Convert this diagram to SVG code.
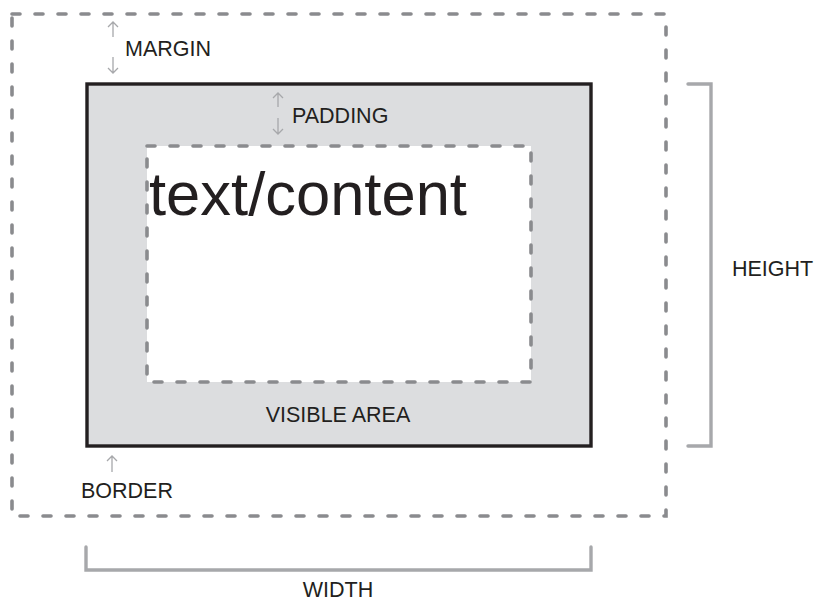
<svg xmlns="http://www.w3.org/2000/svg" width="820" height="603" viewBox="0 0 820 603">
<style>
.lbl{font-family:"Liberation Sans",Arial,sans-serif;font-size:21.5px;fill:#231f20}
.dash{stroke:#8a8b8e;stroke-width:3.6;stroke-dasharray:8 15;stroke-linecap:round}
.brk{fill:none;stroke:#a7a8ab;stroke-width:3.4;stroke-linecap:round;stroke-linejoin:miter}
.arr{fill:none;stroke:#a7a8ab;stroke-width:1.3}
</style>
<rect width="820" height="603" fill="#ffffff"/>
<g id="margin-box">
<rect x="12" y="14" width="654" height="502" fill="none" class="dash"/>
</g>
<g id="border-box">
<rect x="87" y="84" width="504" height="362" fill="#dcdddf" stroke="#231f20" stroke-width="3.4"/>
</g>
<g id="content-box">
<rect x="147" y="146" width="384" height="236" fill="#ffffff" class="dash"/>
<text x="149" y="215" font-family="'Liberation Sans',Arial,sans-serif" font-size="61.5" fill="#231f20">text/content</text>
</g>
<g id="connectors">
<path class="brk" d="M688 84 H711 V446 H688"/>
<path class="brk" d="M86 547 V570 H591 V547"/>
<path class="arr" d="M113 22 V37 M108 27 L113 22 L118 27"/>
<path class="arr" d="M113 57 V73 M108 68 L113 73 L118 68"/>
<path class="arr" d="M278 93 V107 M273 98 L278 93 L283 98"/>
<path class="arr" d="M278 118 V134 M273 129 L278 134 L283 129"/>
<path class="arr" d="M112 456 V472 M107 461 L112 456 L117 461"/>
</g>
<g id="labels">
<text class="lbl" x="125" y="56">MARGIN</text>
<text class="lbl" x="292" y="123">PADDING</text>
<text class="lbl" x="338" y="422" text-anchor="middle">VISIBLE AREA</text>
<text class="lbl" x="81" y="498">BORDER</text>
<text class="lbl" x="732" y="276">HEIGHT</text>
<text class="lbl" x="338" y="597" text-anchor="middle">WIDTH</text>
</g>
</svg>
